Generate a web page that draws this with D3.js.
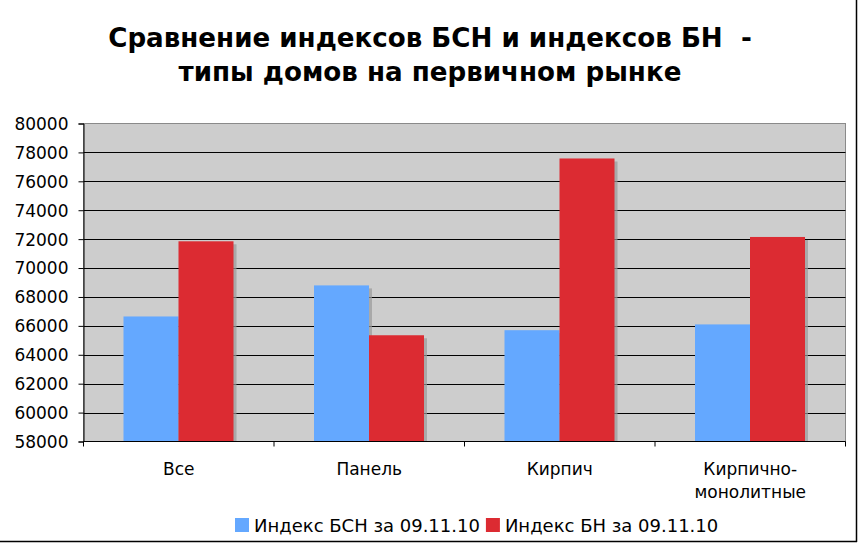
<!DOCTYPE html>
<html><head><meta charset="utf-8">
<script src="https://cdn.jsdelivr.net/npm/d3@7"></script>
<style>
html,body{margin:0;padding:0;background:#fff;}
svg{display:block;}
.ttl{white-space:pre;}
</style></head>
<body>
<svg id="chart" width="860" height="543"></svg>
<script>
const categories = [["Все"], ["Панель"], ["Кирпич"], ["Кирпично-", "монолитные"]];
const seriesNames = ["Индекс БСН за 09.11.10", "Индекс БН за 09.11.10"];
const bsnValues = [66650, 68800, 65700, 66100];
const bnValues = [71850, 65350, 77580, 72150];
const yTicks = [58000, 60000, 62000, 64000, 66000, 68000, 70000, 72000, 74000, 76000, 78000, 80000];
const titleLines = ["Сравнение индексов БСН и индексов БН  -", "типы домов на первичном рынке"];
const colors = ["#64A8FF", "#DC2B32"];

(function () {
const svg = d3.select("#chart");
const pLeft = 83.5, pRight = 845.5, pTop = 123.5, pBottom = 441.5;

const catKeys = categories.map(c => c.join(" "));
const x0 = d3.scaleBand().domain(catKeys).range([pLeft, pRight]).padding(0);
const x1 = d3.scaleBand().domain(seriesNames).range([40, 150]).padding(0);
const y = d3.scaleLinear().domain([58000, 80000]).range([pBottom, pTop]);

svg.append("rect").attr("x", pLeft).attr("y", pTop).attr("width", pRight - pLeft).attr("height", pBottom - pTop)
  .attr("fill", "#CDCDCD").attr("stroke", "#8a8a8a").attr("stroke-width", 1);

svg.append("g").selectAll("line").data(yTicks.slice(1, -1)).join("line")
  .attr("x1", pLeft).attr("x2", pRight)
  .attr("y1", d => Math.round(y(d)) + 0.5).attr("y2", d => Math.round(y(d)) + 0.5)
  .attr("stroke", "#000").attr("stroke-width", 1);

const data = catKeys.map((k, i) => ({k, vals: [bsnValues[i], bnValues[i]]}));
const groups = svg.append("g").selectAll("g").data(data).join("g")
  .attr("transform", d => `translate(${x0(d.k)},0)`);
groups.selectAll("rect.sh").data(d => d.vals.map((v, j) => ({v, s: seriesNames[j], j}))).join("rect")
  .attr("class", "sh")
  .attr("x", d => x1(d.s) + 3).attr("y", d => y(d.v) + 3)
  .attr("width", x1.bandwidth()).attr("height", d => pBottom - y(d.v) - 3)
  .attr("fill", "#9a9a9a").attr("opacity", 0.7);
groups.selectAll("rect.bar").data(d => d.vals.map((v, j) => ({v, s: seriesNames[j], j}))).join("rect")
  .attr("class", "bar")
  .attr("x", d => x1(d.s)).attr("y", d => y(d.v))
  .attr("width", x1.bandwidth()).attr("height", d => pBottom - y(d.v))
  .attr("fill", d => colors[d.j]);

const yAxis = d3.axisLeft(y).tickValues(yTicks).tickSize(5).tickFormat(d3.format("d"));
const ya = svg.append("g").attr("transform", `translate(${pLeft},0)`).call(yAxis);
ya.select(".domain").attr("stroke", "#000");
ya.selectAll(".tick line").attr("stroke", "#000");
ya.selectAll(".tick text").attr("font-family", "Verdana, 'DejaVu Sans', sans-serif")
  .attr("font-size", 17).attr("fill", "#000").attr("x", -15).attr("dy", "0.35em");

const xAxis = d3.axisBottom(x0).tickSize(0).tickFormat("");
const xa = svg.append("g").attr("transform", `translate(0,${pBottom})`).call(xAxis);
xa.select(".domain").attr("stroke", "#000").attr("d", `M${pLeft},0H${pRight}`);
const bounds = catKeys.map(k => x0(k)).concat([pRight]);
svg.append("g").selectAll("line").data(bounds).join("line")
  .attr("x1", d => d).attr("x2", d => d).attr("y1", pBottom).attr("y2", pBottom + 5)
  .attr("stroke", "#000");
const catG = svg.append("g");
categories.forEach((lines, i) => {
  const cx = x0(catKeys[i]) + x0.bandwidth() / 2;
  const t = catG.append("text").attr("x", cx).attr("y", 475)
    .attr("text-anchor", "middle").attr("font-family", "Verdana, 'DejaVu Sans', sans-serif")
    .attr("font-size", 17).attr("fill", "#000");
  lines.forEach((l, j) => t.append("tspan").attr("x", cx).attr("dy", j ? 23 : 0).text(l));
});

// title: fit first line to the reference width
const titleY = [47, 81];
const tNodes = titleLines.map((l, i) => svg.append("text").attr("class", "ttl").attr("x", 430).attr("y", titleY[i]).attr("text-anchor", "middle")
    .attr("font-family", "'DejaVu Sans', Verdana, sans-serif").attr("font-weight", "bold")
    .attr("font-size", 27).attr("fill", "#000").text(l));
const w0 = tNodes[0].node().getComputedTextLength();
const fs = Math.min(28, 27 * 644 / w0);
tNodes.forEach(t => t.attr("font-size", fs));

const lg = svg.append("g");
let lx = 235;
seriesNames.forEach((s, i) => {
  lg.append("rect").attr("x", lx).attr("y", 518).attr("width", 14).attr("height", 14).attr("fill", colors[i]);
  const t = lg.append("text").attr("x", lx + 19).attr("y", 532)
    .attr("font-family", "Verdana, 'DejaVu Sans', sans-serif").attr("font-size", 18).attr("fill", "#000").text(s);
  lx += 19 + t.node().getComputedTextLength() + 6;
});

svg.append("line").attr("x1", 0).attr("x2", 857).attr("y1", 541.5).attr("y2", 541.5).attr("stroke", "#000").attr("stroke-width", 1.5);
svg.append("line").attr("x1", 856.5).attr("x2", 856.5).attr("y1", 0).attr("y2", 542).attr("stroke", "#000").attr("stroke-width", 1.5);
})();
</script>
</body></html>
